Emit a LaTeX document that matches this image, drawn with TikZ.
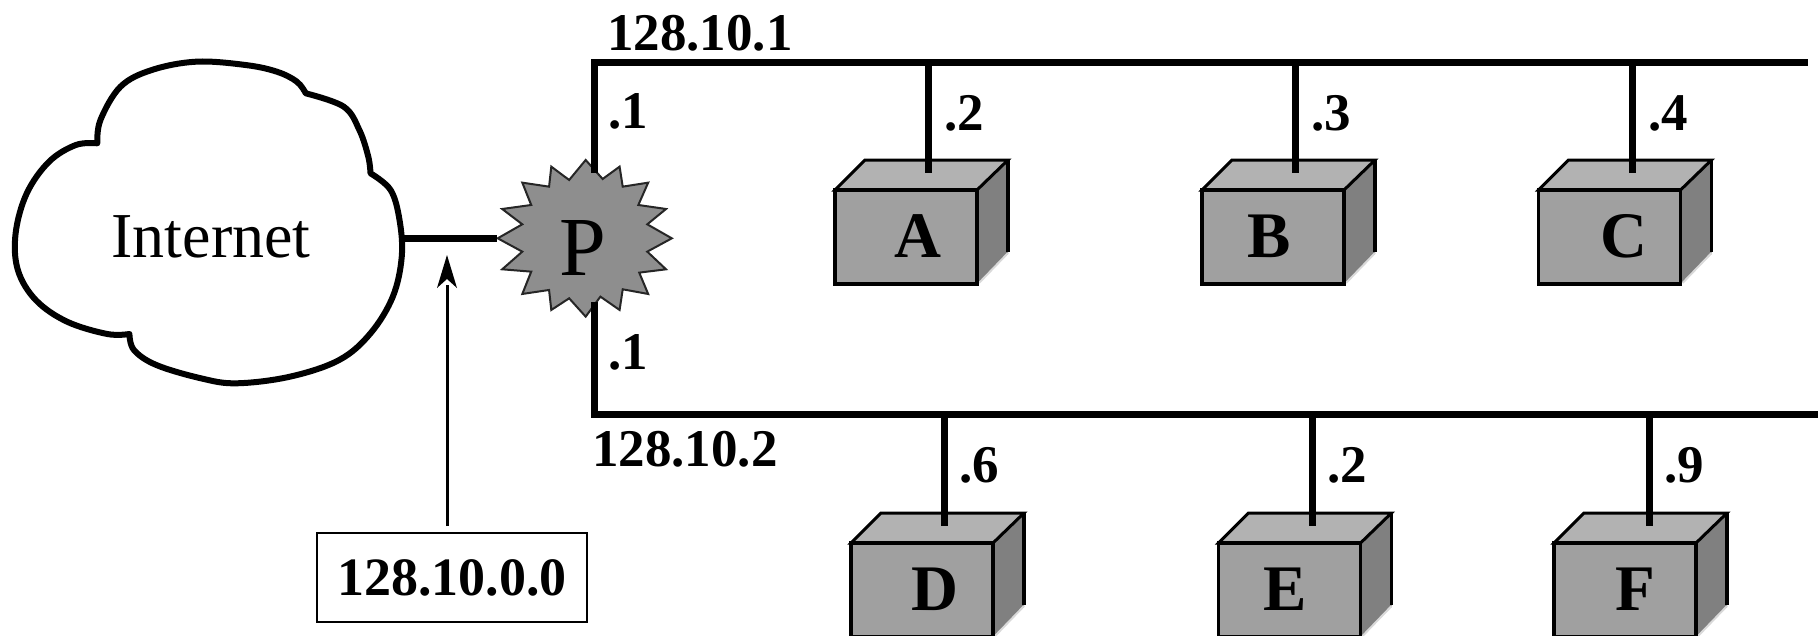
\documentclass[tikz,border=0pt]{standalone}
\usepackage{fontspec}
\setmainfont{Liberation Serif}
\tikzset{
  x=1pt,y=-1pt,
  bus/.style={line width=7pt,line cap=butt},
  netlabel/.style={inner sep=0pt,anchor=base west,font=\fontsize{53}{58}\selectfont\bfseries},
  hostletter/.style={inner sep=0pt,anchor=base,font=\fontsize{65}{68}\selectfont\bfseries},
  hosttop/.style={fill=topgray,draw=black,line width=3pt,line join=miter},
  hostfront/.style={fill=frontgray,draw=black,line width=3.5pt},
  hostside/.style={fill=sidegray,draw=black,line width=2.5pt},
}
\definecolor{topgray}{HTML}{B2B2B2}
\definecolor{frontgray}{HTML}{A0A0A0}
\definecolor{sidegray}{HTML}{808080}
\definecolor{stargray}{HTML}{8E8E8E}
\newcommand{\hostbox}[5]{%
  % name, left x, top y, stem x, letter x
  \fill[sidegray] (#2+142,#3) -- (#2+173,#3-30) -- (#2+173,#3+64) -- (#2+142,#3+94) -- cycle;
  \draw[black,line width=3.5pt] (#2+173,#3-31) -- (#2+173,#3+62);
  \draw[white!70!gray,line width=2pt] (#2+173,#3+63) -- (#2+144,#3+93);
  \draw[hosttop] (#2,#3) -- (#2+30,#3-30) -- (#2+173,#3-30) -- (#2+142,#3) -- cycle;
  \draw[hostfront] (#2,#3) rectangle (#2+142,#3+94);
  \node[hostletter] (#1) at (#5,#3+67) {#1};
}
\begin{document}
\begin{tikzpicture}
\useasboundingbox (0,0) rectangle (1818,635);
% cloud
\begin{scope}[x=0.4464pt,y=-0.3333pt,shift={(0,90)}]
\draw[line width=6pt,fill=white,line join=round]
  plot[smooth,tension=0.6] coordinates {(218,340)(225,270)(270,170)(340,120)(440,95)(550,105)(620,125)(665,155)(685,190)}
  -- plot[smooth,tension=0.6] coordinates {(685,190)(770,230)(805,300)(825,380)(830,430)}
  -- plot[smooth,tension=0.6] coordinates {(830,430)(875,480)(895,570)(900,680)(880,800)(830,910)(760,990)(650,1040)(530,1060)(450,1045)(350,1005)(300,960)(290,912)}
  -- plot[smooth,tension=0.6] coordinates {(290,912)(240,912)(150,875)(80,810)(40,720)(35,610)(60,490)(110,395)(170,345)(218,340)}
  -- cycle;
\end{scope}
% star
\begin{scope}[x=0.4464pt,y=-0.3333pt,shift={(0,90)}]
\draw[fill=stargray,draw=black!85,line width=2pt,line join=miter]
 (1312,390)--(1350,447)--(1388,410)--(1395,470)--(1452,458)--(1430,525)--(1492,537)--(1450,583)--(1505,625)--(1450,665)--(1492,718)--(1432,728)--(1452,792)--(1395,778)--(1388,840)--(1345,800)--(1312,860)--(1275,805)--(1235,840)--(1230,780)--(1170,792)--(1190,725)--(1125,718)--(1170,665)--(1115,625)--(1170,583)--(1125,537)--(1190,525)--(1170,458)--(1230,470)--(1235,410)--(1275,450)--cycle;
\end{scope}
\node[inner sep=0pt,anchor=base,font=\fontsize{84}{88}\selectfont] (P) at (583,275) {P};
\node[inner sep=0pt,anchor=base,font=\fontsize{64}{68}\selectfont] (Internet) at (211,257) {Internet};
% hosts
\hostbox{A}{835}{190}{928}{918}
\hostbox{B}{1202}{190}{1295}{1269}
\hostbox{C}{1538.5}{190}{1632}{1624}
\hostbox{D}{851}{543}{944}{935}
\hostbox{E}{1218.5}{543}{1312.5}{1285}
\hostbox{F}{1554}{543}{1649}{1635}
% named points
\coordinate (topL) at (594,62);
\coordinate (topR) at (1808,62);
\coordinate (botL) at (594,414);
\coordinate (botR) at (1818,414);
\coordinate (starT) at (594,173);
\coordinate (starB) at (594,302);
\coordinate (cloudE) at (402,238);
\coordinate (starW) at (497,238);
\foreach \n/\x in {a/928,b/1295,c/1632}{
  \coordinate (bus\n) at (\x,62);
  \coordinate (end\n) at (\x,173);
  \draw[bus] (bus\n) -- (end\n);
}
\foreach \n/\x in {d/944,e/1312.5,f/1649}{
  \coordinate (bus\n) at (\x,414);
  \coordinate (end\n) at (\x,526);
  \draw[bus] (bus\n) -- (end\n);
}
\draw[bus,line join=miter] (starT) -- (topL) -- (topR);
\draw[bus,line join=miter] (starB) -- (botL) -- (botR);
\draw[bus] (cloudE) -- (starW);
% address box and arrow
\node[draw,line width=2pt,minimum width=270pt,minimum height=89pt,inner sep=0pt,font=\fontsize{54}{58}\selectfont\bfseries] (addr) at (452,577.5) {128.10.0.0};
\coordinate (tail) at (447,526);
\coordinate (tip) at (447,255);
\draw[line width=3pt] (tail) -- (447,285);
\fill (tip) -- (437,288) -- (447,279) -- (457,288) -- cycle;
% labels
\node[netlabel] (n1) at (607,50) {128.10.1};
\node[netlabel] (n2) at (592,466) {128.10.2};
\node[netlabel] (p1) at (608,128) {.1};
\node[netlabel] (p2) at (608,369) {.1};
\node[netlabel] (la) at (944,130) {.2};
\node[netlabel] (lb) at (1311,130) {.3};
\node[netlabel] (lc) at (1648,130) {.4};
\node[netlabel] (ld) at (959,482) {.6};
\node[netlabel] (le) at (1327,482) {.2};
\node[netlabel] (lf) at (1664,482) {.9};
\end{tikzpicture}
\end{document}
